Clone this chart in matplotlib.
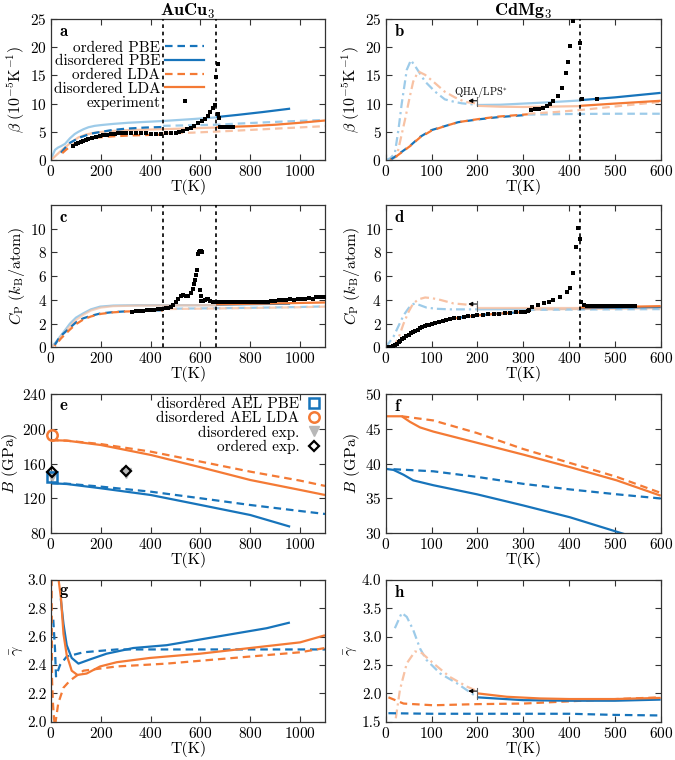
import matplotlib
matplotlib.use('Agg')
import matplotlib.pyplot as plt
from matplotlib.lines import Line2D

plt.rcParams.update({
    'font.family': 'cmr10',
    'mathtext.fontset': 'cm',
    'axes.formatter.use_mathtext': True,
    'axes.unicode_minus': False,
    'font.size': 11,
    'axes.linewidth': 0.9,
    'axes.edgecolor': '#333333',
})

BLUE = '#1774BB'
ORANGE = '#F47A35'
LBLUE = '#9DCBE9'
LORANGE = '#F8C2A4'
GRAY = '#B8B8B8'

# ---------------- transitions ----------------
Tc_AuCu3 = [450, 663]
Tc_CdMg3 = [423]

# ---------------- panel a : AuCu3 beta ----------------
a_disPBE_lt_T = [0, 8, 16, 28, 40, 56, 76, 95, 110, 130, 150, 175, 203, 250, 310, 444, 550, 663]
a_disPBE_lt_v = [0, 1.0, 1.8, 2.2, 2.45, 2.85, 3.85, 4.6, 5.0, 5.45, 5.8, 6.05, 6.2, 6.4, 6.6, 6.9, 7.2, 7.55]
a_disPBE_dk_T = [663, 750, 850, 960]
a_disPBE_dk_v = [7.6, 8.0, 8.5, 9.1]
a_disLDA_lt_T = [0, 15, 43, 76, 110, 140, 177, 230, 310, 444, 550, 663]
a_disLDA_lt_v = [0, 0.6, 1.75, 2.95, 4.0, 4.5, 4.85, 5.1, 5.3, 5.45, 5.6, 5.75]
a_disLDA_dk_T = [663, 800, 900, 1000, 1100]
a_disLDA_dk_v = [5.8, 6.0, 6.25, 6.6, 7.0]
a_ordPBE_dk_T = [40, 60, 76, 116, 163, 244, 300, 377, 450]
a_ordPBE_dk_v = [1.3, 2.3, 3.05, 4.0, 4.7, 5.3, 5.55, 5.75, 5.85]
a_ordPBE_lt_T = [450, 550, 663, 750, 850, 950, 1100]
a_ordPBE_lt_v = [6.05, 6.15, 6.25, 6.45, 6.65, 6.85, 7.1]
a_ordLDA_dk_T = [45, 60, 80, 110, 150, 190, 250, 320, 400, 450]
a_ordLDA_dk_v = [1.2, 1.8, 2.5, 3.2, 3.7, 4.0, 4.2, 4.35, 4.45, 4.5]
a_ordLDA_lt_T = [450, 570, 720, 920, 1100]
a_ordLDA_lt_v = [4.7, 4.85, 5.15, 5.6, 6.0]
a_exp_T = [90, 100, 110, 120, 130, 140, 150, 165, 180, 195, 210, 225, 240, 255, 270, 285, 300, 320,
           340, 360, 380, 400, 420, 440, 460, 480, 500, 515, 530, 545, 560, 575, 590, 605, 620, 630,
           640, 650, 657, 664, 669, 671, 675, 680, 690, 700, 710, 720, 730]
a_exp_v = [2.5, 2.8, 3.05, 3.25, 3.45, 3.6, 3.7, 3.9, 4.1, 4.25, 4.4, 4.5, 4.6, 4.65, 4.7, 4.7, 4.75, 4.75,
           4.75, 4.7, 4.7, 4.65, 4.65, 4.65, 4.7, 4.75, 4.85, 5.0, 5.2, 5.45, 5.75, 6.1, 6.5, 6.9, 7.3, 7.8,
           8.5, 9.3, 9.8, 14.8, 17.0, 8.1, 7.5, 5.9, 5.85, 5.85, 5.85, 5.85, 5.85]

# ---------------- panel b : CdMg3 beta ----------------
b_ddPBE_T = [0, 10, 20, 28, 35, 46, 55, 67, 86, 108, 129, 150, 166, 185, 200]
b_ddPBE_v = [0, 0.3, 1.2, 5.5, 10, 16, 17.7, 16.3, 13.9, 12.1, 10.75, 10.3, 10.05, 9.9, 9.8]
b_ddLDA_T = [10, 24, 32, 42, 52, 60, 71, 86, 108, 129, 151, 173, 191, 200]
b_ddLDA_v = [0, 0.6, 3.5, 7.1, 11, 13.9, 15.7, 15.1, 13.6, 12.1, 11.1, 10.3, 10.1, 10.0]
b_disPBE_lt_T = [200, 250, 300, 350, 423]
b_disPBE_lt_v = [9.75, 9.8, 10.0, 10.2, 10.55]
b_disPBE_dk_T = [423, 500, 600]
b_disPBE_dk_v = [10.6, 11.1, 11.9]
b_disLDA_lt_T = [200, 250, 300, 350, 423]
b_disLDA_lt_v = [9.6, 9.45, 9.4, 9.45, 9.55]
b_disLDA_dk_T = [423, 500, 600]
b_disLDA_dk_v = [9.6, 10.0, 10.5]
b_ordPBE_dk_T = [10, 24, 53, 75, 100, 129, 158, 202, 246, 310]
b_ordPBE_dk_v = [0, 0.8, 2.5, 4.1, 5.3, 6.0, 6.7, 7.2, 7.6, 8.0]
b_ordLDA_dk_T = [10, 24, 53, 75, 100, 129, 158, 202, 246, 310]
b_ordLDA_dk_v = [0, 0.7, 2.45, 4.0, 5.2, 6.0, 6.7, 7.25, 7.7, 8.1]
b_ordPBE_lt_T = [310, 400, 500, 600]
b_ordPBE_lt_v = [8.05, 8.15, 8.2, 8.2]
b_ordLDA_lt_T = [310, 370, 430, 490, 550, 600]
b_ordLDA_lt_v = [8.2, 8.5, 8.9, 9.4, 9.9, 10.3]
b_exp_T = [316, 325, 334, 343, 352, 358, 364, 375, 384, 393, 398, 403, 408, 423, 428, 460]
b_exp_v = [8.8, 9.0, 9.1, 9.3, 9.5, 9.9, 10.5, 11.3, 12.8, 15.5, 17.4, 20.3, 24.6, 20.8, 10.8, 10.8]

# ---------------- panel c : AuCu3 Cp ----------------
c_disPBE_lt_T = [0, 20, 40, 60, 76, 100, 130, 160, 197, 250, 350, 450, 663]
c_disPBE_lt_v = [0, 0.45, 1.0, 1.55, 2.0, 2.5, 2.87, 3.2, 3.43, 3.52, 3.55, 3.55, 3.55]
c_disLDA_lt_T = [0, 20, 40, 60, 80, 100, 130, 160, 200, 250, 350, 450, 663]
c_disLDA_lt_v = [0, 0.35, 0.9, 1.4, 1.85, 2.3, 2.75, 3.1, 3.35, 3.47, 3.52, 3.53, 3.55]
c_disPBE_dk_T = [663, 800, 960]
c_disPBE_dk_v = [3.6, 3.64, 3.68]
c_disLDA_dk_T = [663, 800, 950, 1100]
c_disLDA_dk_v = [3.62, 3.67, 3.72, 3.78]
c_ordPBE_dk_T = [15, 36, 76, 100, 130, 160, 197, 250, 300, 400, 450]
c_ordPBE_dk_v = [0.2, 0.9, 1.65, 2.1, 2.45, 2.65, 2.85, 2.97, 3.03, 3.1, 3.12]
c_ordLDA_dk_T = [15, 40, 76, 100, 130, 160, 200, 250, 300, 450]
c_ordLDA_dk_v = [0.1, 0.75, 1.5, 1.95, 2.35, 2.6, 2.82, 2.95, 3.02, 3.1]
c_ordPBE_lt_T = [450, 600, 800, 1000, 1100]
c_ordPBE_lt_v = [3.25, 3.28, 3.33, 3.4, 3.45]
c_ordLDA_lt_T = [450, 600, 800, 1000, 1100]
c_ordLDA_lt_v = [3.22, 3.26, 3.31, 3.38, 3.43]
c_exp = [(325, 3.0), (340, 3.03), (355, 3.06), (370, 3.09), (385, 3.12), (400, 3.15), (415, 3.18),
         (430, 3.21), (445, 3.25), (460, 3.3), (470, 3.35), (480, 3.42), (490, 3.55), (500, 3.8),
         (510, 4.05), (520, 4.3), (530, 4.4), (540, 4.3), (550, 4.35), (560, 4.6), (568, 4.9),
         (575, 5.3), (580, 5.7), (584, 6.1), (587, 6.5), (590, 7.9), (594, 8.0), (598, 8.1),
         (602, 8.1), (606, 8.0), (598, 4.8), (601, 4.3), (604, 3.9), (610, 3.9), (618, 4.0),
         (626, 4.1), (632, 4.05), (640, 3.9), (650, 3.85), (660, 3.85), (675, 3.8), (690, 3.8),
         (705, 3.8), (720, 3.8), (735, 3.8), (750, 3.82), (765, 3.8), (780, 3.8), (795, 3.82),
         (810, 3.82), (825, 3.8), (840, 3.85), (855, 3.85), (870, 3.85), (885, 3.9), (900, 3.9),
         (915, 3.95), (930, 4.0), (945, 4.0), (960, 4.05), (975, 4.0), (990, 4.05), (1005, 4.1),
         (1020, 4.1), (1035, 4.15), (1050, 4.1), (1065, 4.2), (1080, 4.25), (1095, 4.2)]

# ---------------- panel d : CdMg3 Cp ----------------
d_ddPBE_T = [0, 17, 28, 39, 50, 57, 64, 75, 89, 110, 140, 170, 200]
d_ddPBE_v = [0, 0.9, 1.8, 2.7, 3.3, 3.6, 3.7, 3.55, 3.35, 3.25, 3.2, 3.2, 3.2]
d_ddLDA_T = [15, 20, 30, 39, 50, 60, 72, 86, 100, 119, 148, 177, 200]
d_ddLDA_v = [0, 0.2, 1.0, 2.0, 3.0, 3.7, 4.05, 4.2, 4.15, 4.0, 3.7, 3.6, 3.45]
d_disPBE_lt_T = [200, 300, 423]
d_disPBE_lt_v = [3.2, 3.22, 3.25]
d_disLDA_lt_T = [200, 300, 423]
d_disLDA_lt_v = [3.3, 3.3, 3.3]
d_disPBE_dk_T = [423, 600]
d_disPBE_dk_v = [3.3, 3.4]
d_disLDA_dk_T = [423, 500, 600]
d_disLDA_dk_v = [3.35, 3.4, 3.47]
d_ord_dk_T = [10, 30, 50, 75, 100, 150, 200, 250, 310]
d_ord_dk_v = [0.05, 0.5, 1.05, 1.6, 2.0, 2.45, 2.7, 2.85, 3.0]
d_ordPBE_lt_T = [310, 400, 500, 600]
d_ordPBE_lt_v = [3.15, 3.18, 3.2, 3.22]
d_ordLDA_lt_T = [310, 400, 500, 600]
d_ordLDA_lt_v = [3.18, 3.22, 3.25, 3.3]
d_exp = [(8, 0.0), (12, 0.05), (16, 0.1), (20, 0.2), (24, 0.3), (28, 0.42), (32, 0.55), (36, 0.67),
         (40, 0.8), (45, 0.93), (50, 1.05), (55, 1.17), (60, 1.28), (65, 1.4), (70, 1.5), (75, 1.6),
         (80, 1.68), (85, 1.76), (90, 1.84), (95, 1.91), (100, 1.97), (108, 2.06), (116, 2.15),
         (124, 2.23), (132, 2.3), (140, 2.37), (150, 2.44), (160, 2.5), (170, 2.55), (180, 2.6),
         (190, 2.65), (200, 2.69), (212, 2.74), (224, 2.78), (236, 2.82), (248, 2.85), (260, 2.88),
         (272, 2.91), (284, 2.94), (296, 2.97), (304, 3.0), (310, 3.05), (312, 3.15),
         (320, 3.43), (333, 3.55), (345, 3.7), (356, 3.85), (366, 4.0), (380, 4.27), (395, 4.7),
         (402, 5.03), (409, 6.24), (415, 8.43), (420, 10.1), (424, 9.1), (426, 3.85), (432, 3.6),
         (440, 3.52), (448, 3.5), (456, 3.5), (464, 3.5), (472, 3.5), (480, 3.5), (488, 3.5),
         (496, 3.5), (504, 3.5), (512, 3.5), (520, 3.5), (528, 3.5), (536, 3.5), (544, 3.5)]

# ---------------- panel e : AuCu3 B ----------------
e_disLDA_T = [0, 63, 200, 400, 601, 800, 1000, 1100]
e_disLDA_v = [187, 186.4, 181.4, 170, 155.8, 141.2, 129.8, 124]
e_ordLDA_T = [0, 63, 200, 400, 601, 800, 1000, 1100]
e_ordLDA_v = [187, 186.4, 182.5, 173.8, 162.3, 150.8, 140.5, 134.4]
e_disPBE_T = [0, 63, 200, 400, 601, 800, 960]
e_disPBE_v = [137.5, 136.6, 131.7, 124, 112.5, 101, 87.6]
e_ordPBE_T = [0, 63, 200, 400, 601, 800, 1000, 1100]
e_ordPBE_v = [137.5, 137, 133.6, 127.8, 120.2, 112.5, 105.6, 102.2]
e_AEL_PBE = (2, 145)
e_AEL_LDA = (2, 192.5)
e_dis_exp_T = [2, 300]
e_dis_exp_v = [146, 149]
e_ord_exp_T = [5, 300]
e_ord_exp_v = [150.5, 151.8]

# ---------------- panel f : CdMg3 B ----------------
f_disLDA_T = [0, 35, 53, 75, 104, 199, 300, 402, 504, 600]
f_disLDA_v = [46.8, 46.8, 46.0, 45.2, 44.6, 43.0, 41.3, 39.5, 37.6, 35.4]
f_ordLDA_T = [35, 104, 199, 300, 402, 504, 600]
f_ordLDA_v = [46.8, 46.2, 44.4, 42.1, 40.1, 38.1, 35.8]
f_disPBE_T = [0, 17, 39, 60, 104, 199, 300, 402, 525]
f_disPBE_v = [39.25, 39.1, 38.4, 37.6, 36.9, 35.6, 34.0, 32.3, 29.8]
f_ordPBE_T = [17, 104, 199, 300, 402, 504, 600]
f_ordPBE_v = [39.2, 38.9, 38.1, 37.1, 36.3, 35.6, 35.0]

# ---------------- panel g : AuCu3 gamma ----------------
g_disPBE_T = [39, 50, 63, 83, 110, 157, 223, 330, 464, 598, 732, 866, 959]
g_disPBE_v = [2.87, 2.69, 2.54, 2.45, 2.41, 2.44, 2.48, 2.52, 2.54, 2.58, 2.62, 2.66, 2.70]
g_disLDA_T = [29, 40, 50, 63, 83, 106, 143, 197, 264, 397, 598, 799, 1000, 1100]
g_disLDA_v = [3.02, 2.87, 2.62, 2.47, 2.36, 2.33, 2.34, 2.39, 2.42, 2.45, 2.48, 2.52, 2.56, 2.61]
g_ordPBE_T = [9, 16, 20, 36, 63, 130, 264, 600, 1100]
g_ordPBE_v = [2.72, 2.51, 2.32, 2.40, 2.46, 2.49, 2.51, 2.51, 2.51]
g_ordLDA_T = [2, 4, 8, 12, 16, 29, 50, 76, 130, 264, 464, 732, 1000, 1100]
g_ordLDA_v = [3.1, 2.3, 2.12, 2.02, 1.97, 2.13, 2.24, 2.29, 2.36, 2.39, 2.41, 2.45, 2.49, 2.52]

# ---------------- panel h : CdMg3 gamma ----------------
h_ddPBE_T = [20, 35, 46, 60, 75, 89, 119, 155, 200]
h_ddPBE_v = [3.15, 3.42, 3.35, 3.12, 2.79, 2.59, 2.35, 2.18, 1.93]
h_ddLDA_T = [22, 31, 46, 64, 79, 104, 140, 177, 200]
h_ddLDA_v = [1.56, 2.06, 2.53, 2.74, 2.71, 2.53, 2.29, 2.12, 2.04]
h_disLDA_T = [200, 264, 337, 400, 500, 600]
h_disLDA_v = [2.0, 1.94, 1.91, 1.9, 1.9, 1.92]
h_disPBE_T = [200, 300, 400, 500, 600]
h_disPBE_v = [1.93, 1.88, 1.87, 1.87, 1.89]
h_ordLDA_T = [6, 39, 104, 199, 300, 402, 504, 600]
h_ordLDA_v = [1.93, 1.82, 1.79, 1.81, 1.82, 1.86, 1.90, 1.93]
h_ordPBE_T = [6, 100, 200, 300, 402, 500, 600]
h_ordPBE_v = [1.65, 1.64, 1.64, 1.64, 1.64, 1.62, 1.61]

# ---------------- styles ----------------
LW = 1.6
DASH = (0, (3.4, 2.2))
DASH2 = (2.8, (3.4, 2.2))
DASHDOT = (0, (4, 1.8, 1, 1.8))
TICK_FS = 11
LABEL_FS = 11.5
LEG_FS = 11

fig = plt.figure(figsize=(6.75, 7.6), dpi=100)
L = [0.0756, 0.4059]
R = [0.5714, 0.4074]
rows = [(0.7895, 0.1855), (0.543, 0.1873), (0.2983, 0.1833), (0.0504, 0.1864)]
axes = {}
names = [('a', 'b'), ('c', 'd'), ('e', 'f'), ('g', 'h')]
for (b, h), (nl, nr) in zip(rows, names):
    axes[nl] = fig.add_axes([L[0], b, L[1], h])
    axes[nr] = fig.add_axes([R[0], b, R[1], h])


def style(ax, letter, xmax, xticks, ylim, yticks, ylabel, fmt=None):
    ax.set_xlim(0, xmax)
    ax.set_xticks(xticks)
    ax.set_ylim(*ylim)
    ax.set_yticks(yticks)
    if fmt:
        ax.set_yticklabels([fmt % v for v in yticks])
    ax.tick_params(direction='in', top=True, right=True, length=4, width=0.8,
                   labelsize=TICK_FS, pad=3, color='#333333')
    ax.set_xlabel('T(K)', fontsize=LABEL_FS, labelpad=0)
    ax.set_ylabel(ylabel, fontsize=LABEL_FS, labelpad=2)
    ax.text(0.03, 0.915, r'$\mathbf{%s}$' % letter, transform=ax.transAxes,
            fontsize=12, ha='left', va='center')


def line(ax, T, v, c, ls='-', z=2, **kw):
    ax.plot(T, v, color=c, lw=LW, ls=ls, zorder=z, solid_capstyle='butt', **kw)


def exp(ax, T, v):
    ax.plot(T, v, ls='none', marker='s', ms=2.6, mew=0, color='black', zorder=5)


def vlines(ax, Ts):
    for t in Ts:
        ax.axvline(t, color='black', lw=1.2, ls=(0, (2.2, 2.2)), zorder=4)


def qha_arrow(ax, y, bar, text=None, ty=None):
    ax.annotate('', xy=(180, y), xytext=(200, y),
                arrowprops=dict(arrowstyle='-|>', color='black', lw=0.8,
                                mutation_scale=6, shrinkA=0, shrinkB=0), zorder=6)
    ax.plot([200, 200], bar, color='#666666', lw=0.8, zorder=6)
    if text:
        ax.text(150, ty, text, fontsize=7.5, ha='left', va='center')


# ---- a ----
ax = axes['a']
line(ax, a_disPBE_lt_T, a_disPBE_lt_v, LBLUE)
line(ax, a_disLDA_lt_T, a_disLDA_lt_v, LORANGE)
line(ax, a_ordPBE_lt_T, a_ordPBE_lt_v, LBLUE, DASH)
line(ax, a_ordLDA_lt_T, a_ordLDA_lt_v, LORANGE, DASH)
line(ax, a_disPBE_dk_T, a_disPBE_dk_v, BLUE, z=3)
line(ax, a_disLDA_dk_T, a_disLDA_dk_v, ORANGE, z=3)
line(ax, a_ordPBE_dk_T, a_ordPBE_dk_v, BLUE, DASH, z=3)
line(ax, a_ordLDA_dk_T, a_ordLDA_dk_v, ORANGE, DASH, z=3)
exp(ax, a_exp_T, a_exp_v)
vlines(ax, Tc_AuCu3)
style(ax, 'a', 1100, range(0, 1001, 200), (0, 25), range(0, 26, 5),
      r'$\beta\ (10^{-5}\mathrm{K}^{-1})$')
ax.set_title(r'$\mathbf{AuCu_3}$', fontsize=13, pad=2)
handles = [Line2D([], [], color=BLUE, lw=LW, ls=DASH),
           Line2D([], [], color=BLUE, lw=LW),
           Line2D([], [], color=ORANGE, lw=LW, ls=DASH),
           Line2D([], [], color=ORANGE, lw=LW),
           Line2D([], [], color='black', ls='none', marker='s', ms=2.6, mew=0)]
labels = ['ordered PBE', 'disordered PBE', 'ordered LDA', 'disordered LDA', 'experiment']
leg = ax.legend(handles, labels, loc='upper right', bbox_to_anchor=(0.56, 0.845),
                frameon=False, markerfirst=False, fontsize=LEG_FS, handlelength=2.6,
                handletextpad=0.3, labelspacing=0.0, borderpad=0, borderaxespad=0)
leg.set_zorder(7)

# ---- b ----
ax = axes['b']
line(ax, b_ddPBE_T, b_ddPBE_v, LBLUE, DASHDOT)
line(ax, b_ddLDA_T, b_ddLDA_v, LORANGE, DASHDOT)
line(ax, b_disPBE_lt_T, b_disPBE_lt_v, LBLUE)
line(ax, b_disLDA_lt_T, b_disLDA_lt_v, LORANGE)
line(ax, b_ordPBE_lt_T, b_ordPBE_lt_v, LBLUE, DASH)
line(ax, b_ordLDA_lt_T, b_ordLDA_lt_v, LORANGE, DASH)
line(ax, b_disPBE_dk_T, b_disPBE_dk_v, BLUE, z=3)
line(ax, b_disLDA_dk_T, b_disLDA_dk_v, ORANGE, z=3)
line(ax, b_ordPBE_dk_T, b_ordPBE_dk_v, BLUE, DASH, z=3)
line(ax, b_ordLDA_dk_T, b_ordLDA_dk_v, ORANGE, DASH2, z=3)
exp(ax, b_exp_T, b_exp_v)
vlines(ax, Tc_CdMg3)
qha_arrow(ax, 10.5, [9.5, 11.1], r'QHA/LPS$^{*}$', 12.0)
style(ax, 'b', 600, range(0, 601, 100), (0, 25), range(0, 26, 5),
      r'$\beta\ (10^{-5}\mathrm{K}^{-1})$')
ax.set_title(r'$\mathbf{CdMg_3}$', fontsize=13, pad=2)

# ---- c ----
ax = axes['c']
line(ax, c_disPBE_lt_T, c_disPBE_lt_v, LBLUE)
line(ax, c_disLDA_lt_T, c_disLDA_lt_v, LORANGE, alpha=0.7)
line(ax, c_ordPBE_lt_T, c_ordPBE_lt_v, LBLUE, DASH)
line(ax, c_ordLDA_lt_T, c_ordLDA_lt_v, LORANGE, DASH2, alpha=0.8)
line(ax, c_disPBE_dk_T, c_disPBE_dk_v, BLUE, z=3)
line(ax, c_disLDA_dk_T, c_disLDA_dk_v, ORANGE, z=3)
line(ax, c_ordPBE_dk_T, c_ordPBE_dk_v, BLUE, DASH, z=3)
line(ax, c_ordLDA_dk_T, c_ordLDA_dk_v, ORANGE, DASH2, z=3)
exp(ax, [p[0] for p in c_exp], [p[1] for p in c_exp])
vlines(ax, Tc_AuCu3)
style(ax, 'c', 1100, range(0, 1001, 200), (0, 12), range(0, 11, 2),
      r'$C_\mathrm{P}\ (k_\mathrm{B}/\mathrm{atom})$')

# ---- d ----
ax = axes['d']
line(ax, d_ddPBE_T, d_ddPBE_v, LBLUE, DASHDOT)
line(ax, d_ddLDA_T, d_ddLDA_v, LORANGE, DASHDOT)
line(ax, d_disPBE_lt_T, d_disPBE_lt_v, LBLUE)
line(ax, d_disLDA_lt_T, d_disLDA_lt_v, LORANGE, alpha=0.8)
line(ax, d_ordPBE_lt_T, d_ordPBE_lt_v, LBLUE, DASH)
line(ax, d_ordLDA_lt_T, d_ordLDA_lt_v, LORANGE, DASH2, alpha=0.7)
line(ax, d_ord_dk_T, d_ord_dk_v, BLUE, DASH, z=3)
line(ax, d_ord_dk_T, d_ord_dk_v, ORANGE, DASH2, z=3)
line(ax, d_disPBE_dk_T, d_disPBE_dk_v, BLUE, z=3)
line(ax, d_disLDA_dk_T, d_disLDA_dk_v, ORANGE, z=3)
exp(ax, [p[0] for p in d_exp], [p[1] for p in d_exp])
vlines(ax, Tc_CdMg3)
qha_arrow(ax, 3.65, [3.1, 3.9])
style(ax, 'd', 600, range(0, 601, 100), (0, 12), range(0, 11, 2),
      r'$C_\mathrm{P}\ (k_\mathrm{B}/\mathrm{atom})$')

# ---- e ----
ax = axes['e']
line(ax, e_ordLDA_T, e_ordLDA_v, ORANGE, DASH)
line(ax, e_disLDA_T, e_disLDA_v, ORANGE)
line(ax, e_ordPBE_T, e_ordPBE_v, BLUE, DASH)
line(ax, e_disPBE_T, e_disPBE_v, BLUE)
ax.plot(e_dis_exp_T, e_dis_exp_v, ls='none', marker='v', ms=6.5, color=GRAY, zorder=5, clip_on=False)
ax.plot(*e_AEL_PBE, ls='none', marker='s', ms=6.5, mfc='none', mec=BLUE, mew=1.8, zorder=6, clip_on=False)
ax.plot(*e_AEL_LDA, ls='none', marker='o', ms=7.5, mfc='none', mec=ORANGE, mew=1.8, zorder=6, clip_on=False)
ax.plot(e_ord_exp_T, e_ord_exp_v, ls='none', marker='D', ms=5.5, mfc='none', mec='black', mew=1.6, zorder=7, clip_on=False)
style(ax, 'e', 1100, range(0, 1001, 200), (80, 240), range(80, 241, 40), r'$B$ (GPa)')
eh = [Line2D([], [], ls='none', marker='s', ms=6.5, mfc='none', mec=BLUE, mew=1.8),
      Line2D([], [], ls='none', marker='o', ms=7.5, mfc='none', mec=ORANGE, mew=1.8),
      Line2D([], [], ls='none', marker='v', ms=6.5, color=GRAY),
      Line2D([], [], ls='none', marker='D', ms=5.5, mfc='none', mec='black', mew=1.6)]
el = ['disordered AEL PBE', 'disordered AEL LDA', 'disordered exp.', 'ordered exp.']
ax.legend(eh, el, loc='upper right', bbox_to_anchor=(0.995, 0.975), frameon=False,
          markerfirst=False, fontsize=LEG_FS, handlelength=1.2, handletextpad=0.4,
          labelspacing=0.02, borderpad=0, borderaxespad=0)

# ---- f ----
ax = axes['f']
line(ax, f_ordLDA_T, f_ordLDA_v, ORANGE, DASH)
line(ax, f_disLDA_T, f_disLDA_v, ORANGE)
line(ax, f_ordPBE_T, f_ordPBE_v, BLUE, DASH)
line(ax, f_disPBE_T, f_disPBE_v, BLUE)
style(ax, 'f', 600, range(0, 601, 100), (30, 50), range(30, 51, 5), r'$B$ (GPa)')

# ---- g ----
ax = axes['g']
line(ax, g_ordPBE_T, g_ordPBE_v, BLUE, DASH)
line(ax, g_ordLDA_T, g_ordLDA_v, ORANGE, DASH)
line(ax, g_disPBE_T, g_disPBE_v, BLUE)
line(ax, g_disLDA_T, g_disLDA_v, ORANGE)
style(ax, 'g', 1100, range(0, 1001, 200), (2.0, 3.0), [2.0, 2.2, 2.4, 2.6, 2.8, 3.0],
      r'$\bar{\gamma}$', fmt='%.1f')

# ---- h ----
ax = axes['h']
line(ax, h_ddPBE_T, h_ddPBE_v, LBLUE, DASHDOT)
line(ax, h_ddLDA_T, h_ddLDA_v, LORANGE, DASHDOT)
line(ax, h_ordPBE_T, h_ordPBE_v, BLUE, DASH)
line(ax, h_ordLDA_T, h_ordLDA_v, ORANGE, DASH)
line(ax, h_disPBE_T, h_disPBE_v, BLUE, z=3)
line(ax, h_disLDA_T, h_disLDA_v, ORANGE, z=3)
qha_arrow(ax, 2.04, [1.9, 2.1])
style(ax, 'h', 600, range(0, 601, 100), (1.5, 4.0), [1.5, 2.0, 2.5, 3.0, 3.5, 4.0],
      r'$\bar{\gamma}$', fmt='%.1f')

fig.savefig('out.png', dpi=100)
